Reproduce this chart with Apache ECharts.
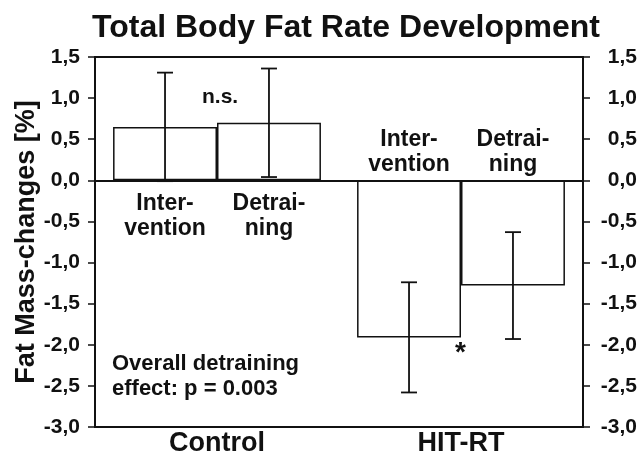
<!DOCTYPE html>
<html>
<head>
<meta charset="utf-8">
<script src="https://cdn.jsdelivr.net/npm/echarts@6/dist/echarts.min.js"></script>
<style>
  html, body { margin: 0; padding: 0; background: #fff; }
  #main { width: 640px; height: 460px; }
</style>
</head>
<body>
<div id="main"></div>
<script>
// data
const categories = ['Control', 'HIT-RT']
const phases = ['Inter-\nvention', 'Detrai-\nning']
const interventionMean = [0.65, -1.91]
const interventionSD = [0.66, 0.67]
const detrainingMean = [0.70, -1.28]
const detrainingSD = [0.66, 0.65]
const yTicks = [-3, -2.5, -2, -1.5, -1, -0.5, 0, 0.5, 1, 1.5]

const font = '"Liberation Sans", Arial, sans-serif'
const ink = '#111'
const barShare = 0.426 // bar width as share of the category band

let myChart = echarts.init(document.getElementById('main'))

// [category, mean, sd, phase]
let errData = []
categories.forEach((c, i) => {
  errData.push([i, interventionMean[i], interventionSD[i], 0])
  errData.push([i, detrainingMean[i], detrainingSD[i], 1])
})

function fmt(v) {
  return v.toFixed(1).replace('.', ',')
}

function yAxisOf(pos, margin, align) {
  return {
    type: 'value',
    position: pos,
    min: yTicks[0],
    max: yTicks[yTicks.length - 1],
    interval: 0.5,
    axisLine: { show: true, lineStyle: { color: ink, width: 2 } },
    axisTick: { show: true, length: 7, lineStyle: { color: ink, width: 1.5 } },
    splitLine: { show: false },
    axisLabel: {
      formatter: fmt,
      color: ink,
      fontFamily: font,
      fontWeight: 'bold',
      fontSize: 21,
      margin: margin,
      align: align,
    },
  }
}

let left = yAxisOf('left', 15, 'right')
left.name = 'Fat Mass-changes [%]'
left.nameLocation = 'middle'
left.nameRotate = 90
left.nameGap = 55
left.nameMoveOverlap = false
left.nameTextStyle = { color: ink, fontFamily: font, fontWeight: 'bold', fontSize: 27 }

let right = yAxisOf('right', 54, 'right')

let barStyle = { color: '#fff', borderColor: ink, borderWidth: 1.5 }

let option = {
  animation: false,
  title: {
    text: 'Total Body Fat Rate Development',
    left: 341,
    textAlign: 'center',
    top: 7,
    textStyle: { color: ink, fontFamily: font, fontWeight: 'bold', fontSize: 32 },
  },
  grid: {
    left: 95,
    right: 57,
    top: 57,
    bottom: 33,
    containLabel: false,
    outerBoundsMode: 'none',
    show: true,
    borderColor: ink,
    borderWidth: 2,
    backgroundColor: 'transparent',
  },
  xAxis: {
    type: 'category',
    data: categories,
    axisLine: { show: true, onZero: false, lineStyle: { color: ink, width: 2 } },
    axisTick: { show: false },
    axisLabel: {
      color: ink,
      fontFamily: font,
      fontWeight: 'bold',
      fontSize: 27,
      margin: 3,
    },
  },
  yAxis: [left, right],
  graphic: [
    {
      type: 'text',
      left: 202,
      top: 87,
      style: { text: 'n.s.', fill: ink, font: 'bold 21px ' + font },
    },
    {
      type: 'text',
      left: 455,
      top: 339,
      style: { text: '*', fill: ink, font: 'bold 28px ' + font },
    },
    {
      type: 'text',
      left: 112,
      top: 351,
      style: {
        text: 'Overall detraining\neffect: p = 0.003',
        fill: ink,
        font: 'bold 22px ' + font,
        lineHeight: 25,
      },
    },
  ],
  series: [
    {
      name: 'Intervention',
      type: 'bar',
      data: interventionMean,
      barWidth: (barShare * 100) + '%',
      barGap: '0%',
      itemStyle: barStyle,
      markLine: {
        silent: true,
        symbol: 'none',
        label: { show: false },
        lineStyle: { color: ink, type: 'solid', width: 2 },
        data: [{ yAxis: 0 }],
      },
    },
    {
      name: 'Detraining',
      type: 'bar',
      data: detrainingMean,
      barWidth: (barShare * 100) + '%',
      barGap: '0%',
      itemStyle: barStyle,
    },
    {
      name: 'SD',
      type: 'custom',
      data: errData,
      z: 5,
      renderItem: function (params, api) {
        let cat = api.value(0)
        let mean = api.value(1)
        let sd = api.value(2)
        let ph = api.value(3)
        let band = api.size([1, 0])[0]
        let dx = (ph === 0 ? -1 : 1) * band * barShare / 2
        let hi = api.coord([cat, mean + sd])
        let lo = api.coord([cat, mean - sd])
        let zero = api.coord([cat, 0])
        let x = hi[0] + dx
        let cap = 8
        let ls = { stroke: ink, lineWidth: 1.8 }
        let above = mean < 0
        return {
          type: 'group',
          children: [
            { type: 'line', shape: { x1: x, y1: hi[1], x2: x, y2: lo[1] }, style: ls },
            { type: 'line', shape: { x1: x - cap, y1: hi[1], x2: x + cap, y2: hi[1] }, style: ls },
            { type: 'line', shape: { x1: x - cap, y1: lo[1], x2: x + cap, y2: lo[1] }, style: ls },
            {
              type: 'text',
              x: x,
              y: above ? zero[1] - 3 : zero[1] + 11,
              style: {
                text: phases[ph],
                fill: ink,
                font: 'bold 23px ' + font,
                lineHeight: 25,
                align: 'center',
                verticalAlign: above ? 'bottom' : 'top',
              },
            },
          ],
        }
      },
    },
  ],
}

myChart.setOption(option)
</script>
</body>
</html>
